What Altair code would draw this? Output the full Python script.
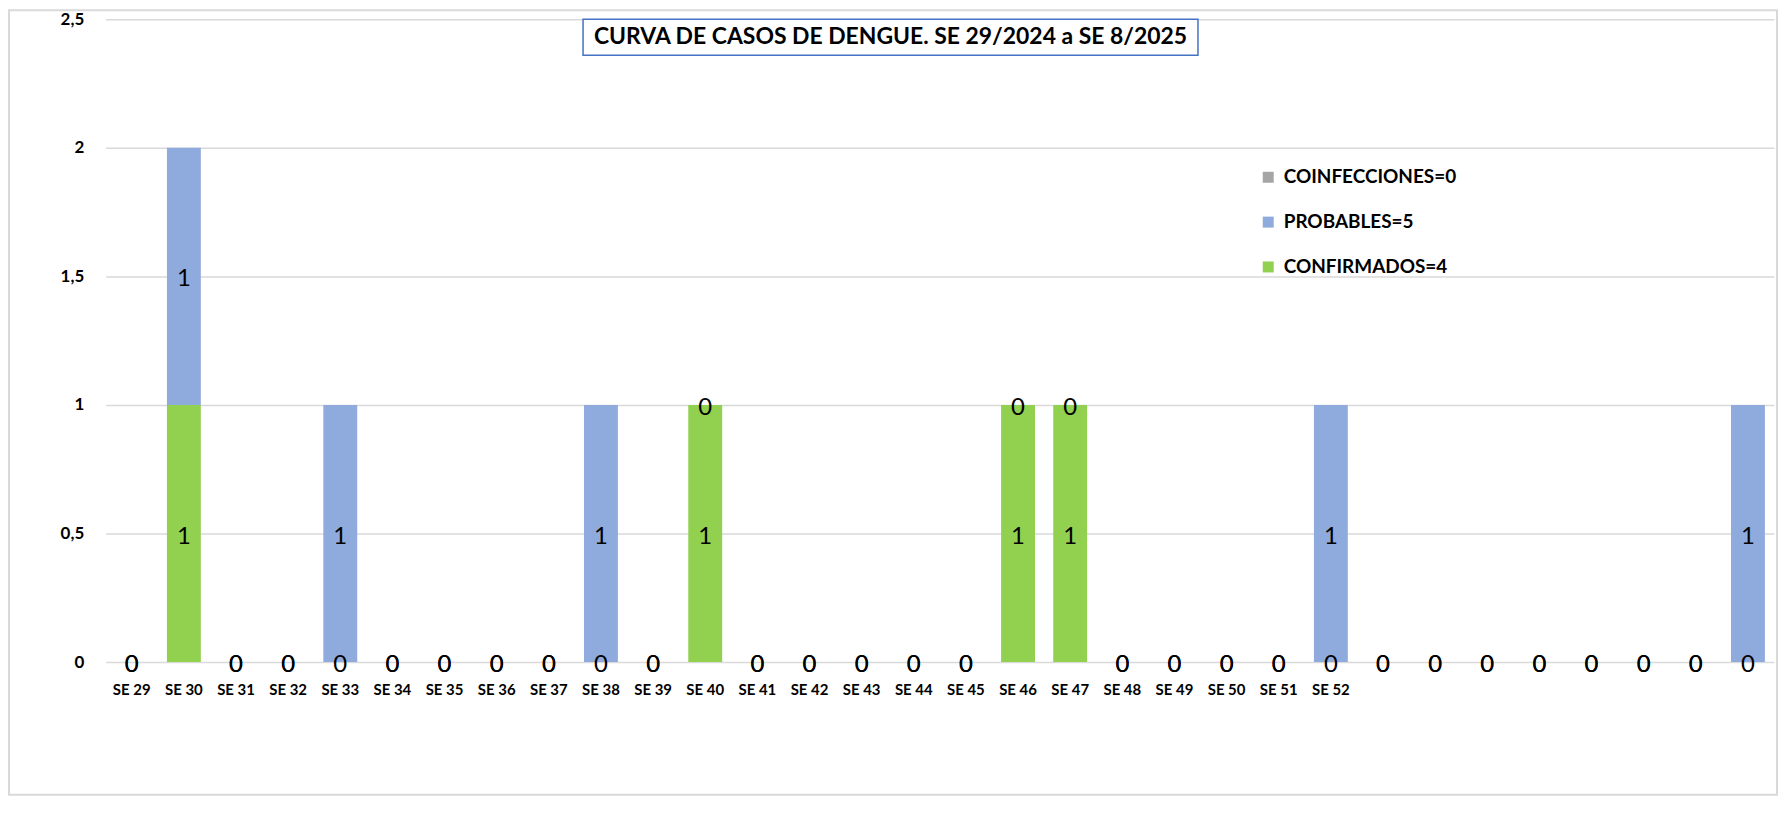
import altair as alt
import pandas as pd

# ---- data ----
weeks = [f"SE {n}" for n in range(29, 53)] + [f"SE {n}/2025" for n in range(1, 9)]
confirmados = [0, 1, 0, 0, 0, 0, 0, 0, 0, 0, 0, 1, 0, 0, 0, 0, 0, 1, 1, 0, 0, 0, 0, 0,
               0, 0, 0, 0, 0, 0, 0, 0]
probables = [0, 1, 0, 0, 1, 0, 0, 0, 0, 1, 0, 0, 0, 0, 0, 0, 0, 0, 0, 0, 0, 0, 0, 1,
             0, 0, 0, 0, 0, 0, 0, 1]
coinfecciones = [0] * 32

name_conf = f"CONFIRMADOS={sum(confirmados)}"
name_prob = f"PROBABLES={sum(probables)}"
name_coin = f"COINFECCIONES={sum(coinfecciones)}"
series_names = [name_coin, name_prob, name_conf]          # legend order (top to bottom)
series_colors = ["#A5A5A5", "#8FAADC", "#92D050"]
title_text = "CURVA DE CASOS DE DENGUE. SE 29/2024 a SE 8/2025"

rows = []
for i, w in enumerate(weeks):
    rows.append({"week": w, "serie": name_conf, "order": 0, "value": confirmados[i], "lab": True})
    rows.append({"week": w, "serie": name_prob, "order": 1, "value": probables[i], "lab": True})
    rows.append({"week": w, "serie": name_coin, "order": 2, "value": coinfecciones[i], "lab": False})
df = pd.DataFrame(rows)

W, H = 1674, 645
FONT = "Lato"

x_enc = alt.X(
    "week:N", sort=weeks, title=None,
    scale=alt.Scale(paddingInner=0.35, paddingOuter=0.175),
    axis=alt.Axis(labelAngle=0, domain=False, ticks=False, tickSize=0, grid=False,
                  labelFont=FONT, labelFontSize=15, labelFontWeight="bold",
                  labelColor="#000000", labelPadding=20,
                  labelExpr="indexof(datum.value, '/2025') >= 0 ? '' : datum.value"),
)

base = alt.Chart(df).transform_stack(
    stack="value", groupby=["week"], as_=["y0", "y1"],
    sort=[alt.SortField("order", order="ascending")],
)

bars = base.mark_bar().encode(
    x=x_enc,
    y=alt.Y("y0:Q", title=None,
            scale=alt.Scale(domain=[0, 2.5], nice=False),
            axis=alt.Axis(values=[0, 0.5, 1, 1.5, 2, 2.5], domain=False, ticks=False,
                          tickSize=0, gridColor="#D9D9D9", gridWidth=1.5,
                          labelFont=FONT, labelFontSize=17, labelFontWeight="bold",
                          labelColor="#000000", labelPadding=22,
                          labelExpr="replace(format(datum.value, '~g'), '.', ',')")),
    y2="y1:Q",
    color=alt.Color("serie:N",
                    scale=alt.Scale(domain=series_names, range=series_colors),
                    legend=alt.Legend(title=None, orient="none", legendX=1157, legendY=149,
                                      symbolType="square", symbolSize=121,
                                      symbolStrokeWidth=0, labelFont=FONT,
                                      labelFontSize=19, labelFontWeight="bold",
                                      labelColor="#000000", rowPadding=25,
                                      labelOffset=6, padding=0,
                                      labelLimit=400)),
)

labels = base.transform_filter("datum.lab").transform_calculate(
    mid="(datum.y0 + datum.y1) / 2"
).mark_text(font=FONT, fontSize=24, color="#000000", baseline="middle", dy=3).encode(
    x=alt.X("week:N", sort=weeks),
    y=alt.Y("mid:Q"),
    text=alt.Text("value:Q"),
)

one = pd.DataFrame({"t": [title_text]})

border = alt.Chart(one).mark_rect(fill="#FFFFFF", fillOpacity=0, stroke="#D9D9D9",
                                  strokeWidth=2).encode(
    x=alt.value(-97), x2=alt.value(W + 3), y=alt.value(-9), y2=alt.value(H + 133))

title_box = alt.Chart(one).mark_rect(fill="#FFFFFF", stroke="#4472C4", strokeWidth=1.5).encode(
    x=alt.value(479), x2=alt.value(1096), y=alt.value(0), y2=alt.value(36))

title = alt.Chart(one).mark_text(font=FONT, fontSize=23, fontWeight="bold", color="#000000",
                                 baseline="middle", align="center").encode(
    x=alt.value(787.5), y=alt.value(18), text="t:N")

chart = alt.layer(bars, labels, border, title_box, title).properties(
    width=W, height=H,
    padding={"left": 98, "top": 10, "right": 4, "bottom": 135},
    autosize=alt.AutoSizeParams(type="none"),
    background="#FFFFFF",
).configure_view(stroke=None).resolve_scale(x="shared", y="shared")

chart.save("out.html", embed_options={"renderer": "svg", "actions": False})
